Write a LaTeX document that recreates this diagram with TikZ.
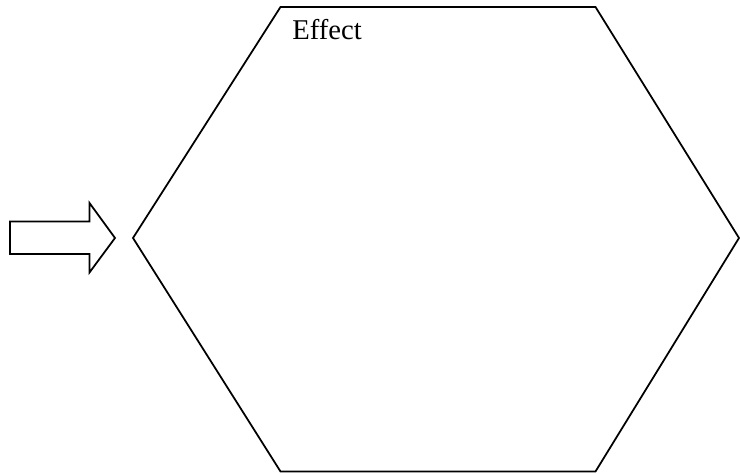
\documentclass[tikz,border=0pt]{standalone}
\usepackage{fontspec}
\setmainfont{Liberation Serif}
\usepackage{tikz}

\begin{document}
\begin{tikzpicture}[line width=1pt, line join=miter]
\useasboundingbox (0,0) rectangle (14.8,9.48);
% block arrow pointing into the hexagon
\draw (0.2,5.05) -- (1.79,5.05) -- (1.79,5.42) -- (2.30,4.72) -- (1.79,4.03) -- (1.79,4.40) -- (0.2,4.40) -- cycle;
% hexagon
\draw (5.61,9.34) -- (11.91,9.34) -- (14.78,4.72) -- (11.91,0.05) -- (5.61,0.05) -- (2.66,4.72) -- cycle;
\node[anchor=base west, inner sep=0pt, font=\fontsize{16.3}{19}\selectfont] (effect) at (5.83,8.68) {Effect};
\end{tikzpicture}
\end{document}
